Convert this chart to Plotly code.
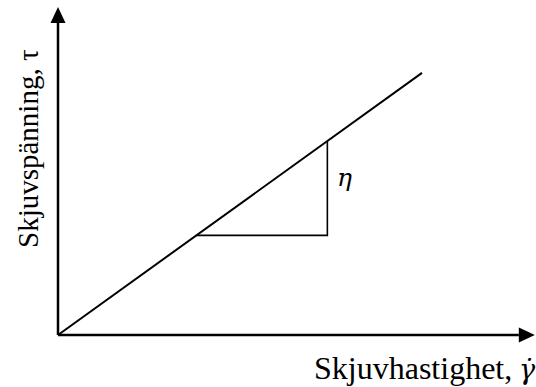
import plotly.graph_objects as go

# Data (arbitrary units)
shear_rate = [0, 10]
shear_stress = [0, 7.2]
tri_rate = [3.8, 7.4, 7.4]
tri_stress = [2.736, 2.736, 5.328]
x_axis_end = 13.10
y_axis_end = 9.01
x_label = "Skjuvhastighet,"
x_symbol = "<i>γ̇</i>"
y_label = "Skjuvspänning, τ"
eta_label = "<i>η</i>"

k = 36.4  # px per unit
x_range = [-58 / k, (536 - 58) / k]
y_range = [-(387 - 335) / k, 335 / k]
head_len = 16 / k
head_half = 7.5 / k

fig = go.Figure()
# axes
fig.add_trace(go.Scatter(x=[0, x_axis_end - head_len], y=[0, 0], mode="lines",
                         line=dict(color="black", width=2.5), hoverinfo="skip"))
fig.add_trace(go.Scatter(x=[0, 0], y=[0, y_axis_end - head_len], mode="lines",
                         line=dict(color="black", width=2.5), hoverinfo="skip"))
# main line
fig.add_trace(go.Scatter(x=shear_rate, y=shear_stress, mode="lines",
                         line=dict(color="black", width=2), hoverinfo="skip"))
# slope triangle
fig.add_trace(go.Scatter(x=tri_rate, y=tri_stress, mode="lines",
                         line=dict(color="black", width=1.6), hoverinfo="skip"))

shapes = [
    dict(type="path", xref="x", yref="y",
         path=f"M {x_axis_end} 0 L {x_axis_end - head_len} {head_half} L {x_axis_end - head_len} {-head_half} Z",
         fillcolor="black", line=dict(color="black", width=0)),
    dict(type="path", xref="x", yref="y",
         path=f"M 0 {y_axis_end} L {head_half} {y_axis_end - head_len} L {-head_half} {y_axis_end - head_len} Z",
         fillcolor="black", line=dict(color="black", width=0)),
]

annotations = [
    dict(x=312, y=388, xref="paper", yref="paper", text=x_label, showarrow=False,
         xanchor="left", yanchor="bottom",
         font=dict(family="Liberation Serif", size=32, color="black")),
    dict(x=527, y=387, xref="paper", yref="paper", text=x_symbol, showarrow=False,
         xanchor="center", yanchor="bottom",
         font=dict(family="DejaVu Serif", size=27, color="black")),
    dict(x=tri_rate[1] + 17 / k, y=(tri_stress[0] + tri_stress[2]) / 2 + 0.3, xref="x", yref="y",
         text=eta_label, showarrow=False, xanchor="center", yanchor="middle",
         font=dict(family="DejaVu Serif", size=25, color="black")),
    dict(x=28, y=149, xref="paper", yref="paper", text=y_label, showarrow=False,
         textangle=-90, xanchor="center", yanchor="middle",
         font=dict(family="Liberation Serif", size=29, color="black")),
]

# convert pixel-based paper positions
for a in annotations:
    if a["xref"] == "paper":
        a["x"] = a["x"] / 536
        a["y"] = 1 - a["y"] / 387

fig.update_layout(
    width=536, height=387,
    margin=dict(l=0, r=0, t=0, b=0),
    paper_bgcolor="white", plot_bgcolor="white",
    showlegend=False,
    xaxis=dict(range=x_range, visible=False, fixedrange=True),
    yaxis=dict(range=y_range, visible=False, fixedrange=True),
    shapes=shapes,
    annotations=annotations,
)
fig.write_html("out.html", config={"displayModeBar": False},
               post_script="document.body.style.margin='0';document.body.style.overflow='hidden';")
